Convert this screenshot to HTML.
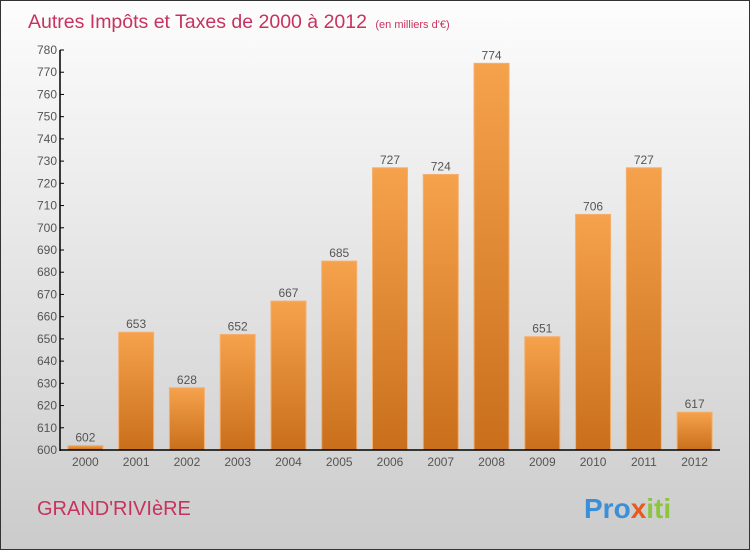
<!DOCTYPE html>
<html><head><meta charset="utf-8"><style>
body{margin:0}
#c{width:748px;height:548px;border:1px solid #333;background:linear-gradient(#fdfdfd,#cbcbcb);position:relative;font-family:"Liberation Sans","DejaVu Sans",sans-serif;overflow:hidden}
</style></head><body>
<div id="c">
<svg width="748" height="548" id="s">
<defs><linearGradient id="g" x1="0" y1="0" x2="0" y2="1"><stop offset="0" stop-color="#f6a24c"/><stop offset="1" stop-color="#c96f1c"/></linearGradient></defs>
<text x="27" y="27" font-size="19.5" fill="#c8325e">Autres Impôts et Taxes de 2000 à 2012 <tspan font-size="11" dx="3">(en milliers d'€)</tspan></text>
<text x="36" y="514" font-size="20" fill="#c8325e">GRAND'RIVIèRE</text>
<text x="583" y="517" font-size="28" font-weight="bold" fill="#3a8fd8">Pro<tspan fill="#e85a1c">x</tspan><tspan fill="#8cc63f">iti</tspan></text>
<g id="plot"></g>
</svg></div>
<script>
const years=["2000","2001","2002","2003","2004","2005","2006","2007","2008","2009","2010","2011","2012"];
const values=[602,653,628,652,667,685,727,724,774,651,706,727,617];
const ticks=[600,610,620,630,640,650,660,670,680,690,700,710,720,730,740,750,760,770,780];
const X0=59,X1=719,Y0=449,Y1=49,VMIN=600,VMAX=780;
const y=v=>Y0-(v-VMIN)/(VMAX-VMIN)*(Y0-Y1);
const bw=(X1-X0)/years.length;
const x=i=>X0+bw*(i+0.5);
const g=document.getElementById('plot'),NS="http://www.w3.org/2000/svg";
function mk(t,a){const e=document.createElementNS(NS,t);for(const k in a)e.setAttribute(k,a[k]);g.appendChild(e);return e;}
values.forEach((v,i)=>{
 const r=mk('rect',{x:x(i)-17.5,y:y(v),width:35,height:Y0-y(v),fill:'url(#g)',stroke:'#f4b070','stroke-width':1});
 
 
 const t=mk('text',{x:x(i),y:y(v)-4,'font-size':12,'text-anchor':'middle',fill:'#555'});t.textContent=v;
 
 
 const l=mk('text',{x:x(i),y:Y0+16,'font-size':12,'text-anchor':'middle',fill:'#555'});l.textContent=years[i];
 
 
});
ticks.forEach(v=>{
 mk('line',{x1:X0,x2:X0+4,y1:y(v),y2:y(v),stroke:'#000'});
 const t=mk('text',{x:X0-3,y:y(v)+4,'font-size':12,'text-anchor':'end',fill:'#555'});t.textContent=v;
 
 
});
const ya=mk('line',{x1:X0,x2:X0,y1:Y1,y2:Y0+1,stroke:'#000','stroke-width':1.5});


const xa=mk('line',{x1:X0,x2:X1,y1:Y0,y2:Y0,stroke:'#000','stroke-width':1.5});


</script>
</body></html>
